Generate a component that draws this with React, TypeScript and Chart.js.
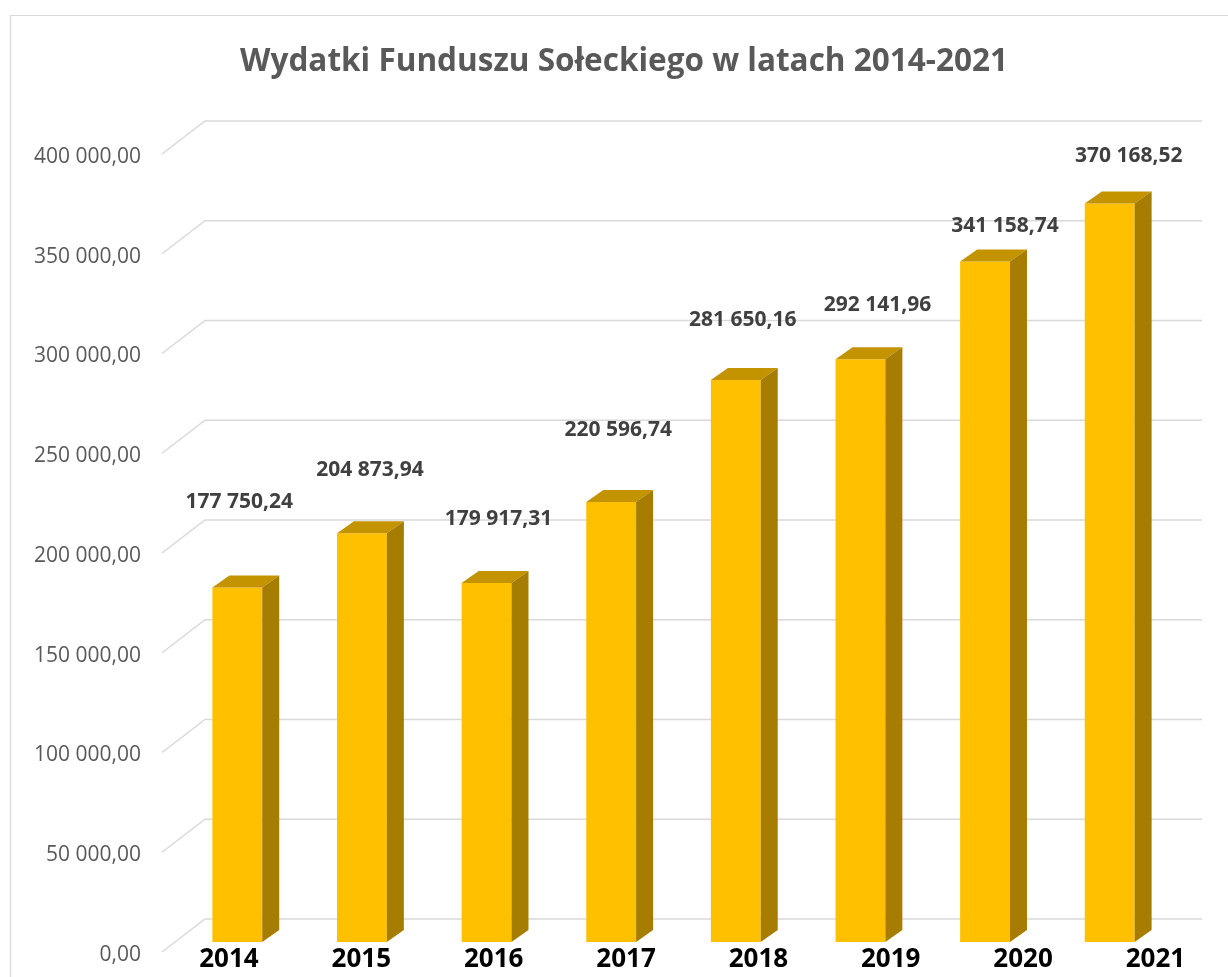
import { useEffect, useRef } from "react";
import { Chart, registerables } from "chart.js";

Chart.register(...registerables);

const TITLE = "Wydatki Funduszu Sołeckiego w latach 2014-2021";
const years = ["2014", "2015", "2016", "2017", "2018", "2019", "2020", "2021"];
const expenses = [177750.24, 204873.94, 179917.31, 220596.74, 281650.16, 292141.96, 341158.74, 370168.52];
const yMin = 0;
const yMax = 400000;
const yStep = 50000;

// manual placement of the value labels (as dragged in the source chart), in px relative to bar top
const labelShiftX = [2, 8, 12, 7, 7, 17, 20, 19];
const labelShiftY = [85, 63, 64, 72, 60, 54, 35, 47];

const FONT = "'Open Sans', 'DejaVu Sans', sans-serif";

function fmt(v: number): string {
  const fixed = v.toFixed(2);
  const [intPart, dec] = fixed.split(".");
  const grouped = intPart.replace(/\B(?=(\d{3})+(?!\d))/g, " ");
  return grouped + "," + dec;
}

// 3D geometry
const DEPTH_X = 17;
const DEPTH_Y = -12;
const BACK = { x: 30, y: -23 };
const FRONT = { x: -13, y: 10 };

const depthPlugin = {
  id: "depth3d",
  beforeDraw(chart: any) {
    const ctx = chart.ctx;
    ctx.save();
    ctx.fillStyle = "#ffffff";
    ctx.fillRect(0, 0, chart.width, chart.height);
    ctx.strokeStyle = "#d9d9d9";
    ctx.lineWidth = 1.2;
    ctx.beginPath();
    ctx.moveTo(10.5, chart.height);
    ctx.lineTo(10.5, 15.5);
    ctx.lineTo(chart.width, 15.5);
    ctx.stroke();
    // title
    ctx.fillStyle = "#595959";
    ctx.font = `bold 31.5px ${FONT}`;
    ctx.textAlign = "center";
    ctx.textBaseline = "alphabetic";
    ctx.fillText(TITLE, 624, 71);
    ctx.restore();
  },
  beforeDatasetsDraw(chart: any) {
    const ctx = chart.ctx;
    const y = chart.scales.y;
    const { left, right } = chart.chartArea;
    ctx.save();
    ctx.strokeStyle = "#d9d9d9";
    ctx.lineWidth = 1.5;
    y.ticks.forEach((t: any) => {
      const py = y.getPixelForValue(t.value);
      ctx.beginPath();
      ctx.moveTo(left + FRONT.x, py + FRONT.y);
      ctx.lineTo(left + BACK.x, py + BACK.y);
      ctx.lineTo(right + BACK.x, py + BACK.y);
      ctx.stroke();
    });
    ctx.restore();
  },
  afterDatasetsDraw(chart: any) {
    const ctx = chart.ctx;
    const meta = chart.getDatasetMeta(0);
    const { left, right } = chart.chartArea;
    const cx = (left + right) / 2;
    ctx.save();
    meta.data.forEach((bar: any, i: number) => {
      const { x, y, base, width } = bar.getProps(["x", "y", "base", "width"], true);
      const l = x - width / 2;
      const r = x + width / 2;
      // top face
      ctx.fillStyle = "#C39300";
      ctx.beginPath();
      ctx.moveTo(l, y);
      ctx.lineTo(r, y);
      ctx.lineTo(r + DEPTH_X, y + DEPTH_Y);
      ctx.lineTo(l + DEPTH_X, y + DEPTH_Y);
      ctx.closePath();
      ctx.fill();
      // side face
      ctx.fillStyle = "#A67D00";
      ctx.beginPath();
      ctx.moveTo(r, y);
      ctx.lineTo(r + DEPTH_X, y + DEPTH_Y);
      ctx.lineTo(r + DEPTH_X, base + DEPTH_Y);
      ctx.lineTo(r, base);
      ctx.closePath();
      ctx.fill();
      // value label
      ctx.fillStyle = "#404040";
      ctx.font = `bold 21px ${FONT}`;
      ctx.textAlign = "center";
      ctx.textBaseline = "middle";
      ctx.fillText(fmt(expenses[i]), x + labelShiftX[i], y - labelShiftY[i]);
      // category label
      ctx.fillStyle = "#000000";
      ctx.font = `bold 26px ${FONT}`;
      const lx = cx + 18.7 + (x - cx) * 1.062;
      ctx.fillText(years[i], lx, 960);
    });
    ctx.restore();
  },
};

export default function App() {
  const canvasRef = useRef<HTMLCanvasElement | null>(null);

  useEffect(() => {
    if (!canvasRef.current) return;
    const chart = new Chart(canvasRef.current, {
      type: "bar",
      data: {
        labels: years,
        datasets: [
          {
            data: expenses,
            backgroundColor: "#FFC000",
            borderWidth: 0,
            barPercentage: 0.4,
            categoryPercentage: 1,
          },
        ],
      },
      options: {
        animation: false,
        responsive: false,
        maintainAspectRatio: false,
        devicePixelRatio: 1,
        layout: { padding: { top: 144, bottom: 35, right: 56, left: 0 } },
        plugins: {
          legend: { display: false },
          title: { display: false },
          tooltip: { enabled: false },
        },
        scales: {
          x: { display: false },
          y: {
            min: yMin,
            max: yMax,
            ticks: {
              stepSize: yStep,
              padding: 34,
              labelOffset: 13,
              color: "#595959",
              font: { family: FONT, size: 21 },
              callback: (v: any) => fmt(Number(v)),
            },
            grid: { display: false, drawTicks: false },
            border: { display: false },
            afterFit: (scale: any) => {
              scale.width = 175;
              scale.paddingTop = 0;
              scale.paddingBottom = 0;
            },
          },
        },
      },
      plugins: [depthPlugin],
    });
    return () => chart.destroy();
  }, []);

  return (
    <div style={{ position: "fixed", left: 0, top: 0, width: 1228, height: 977, background: "#fff" }}>
      <canvas ref={canvasRef} width={1228} height={977} style={{ display: "block", width: 1228, height: 977 }} />
    </div>
  );
}
